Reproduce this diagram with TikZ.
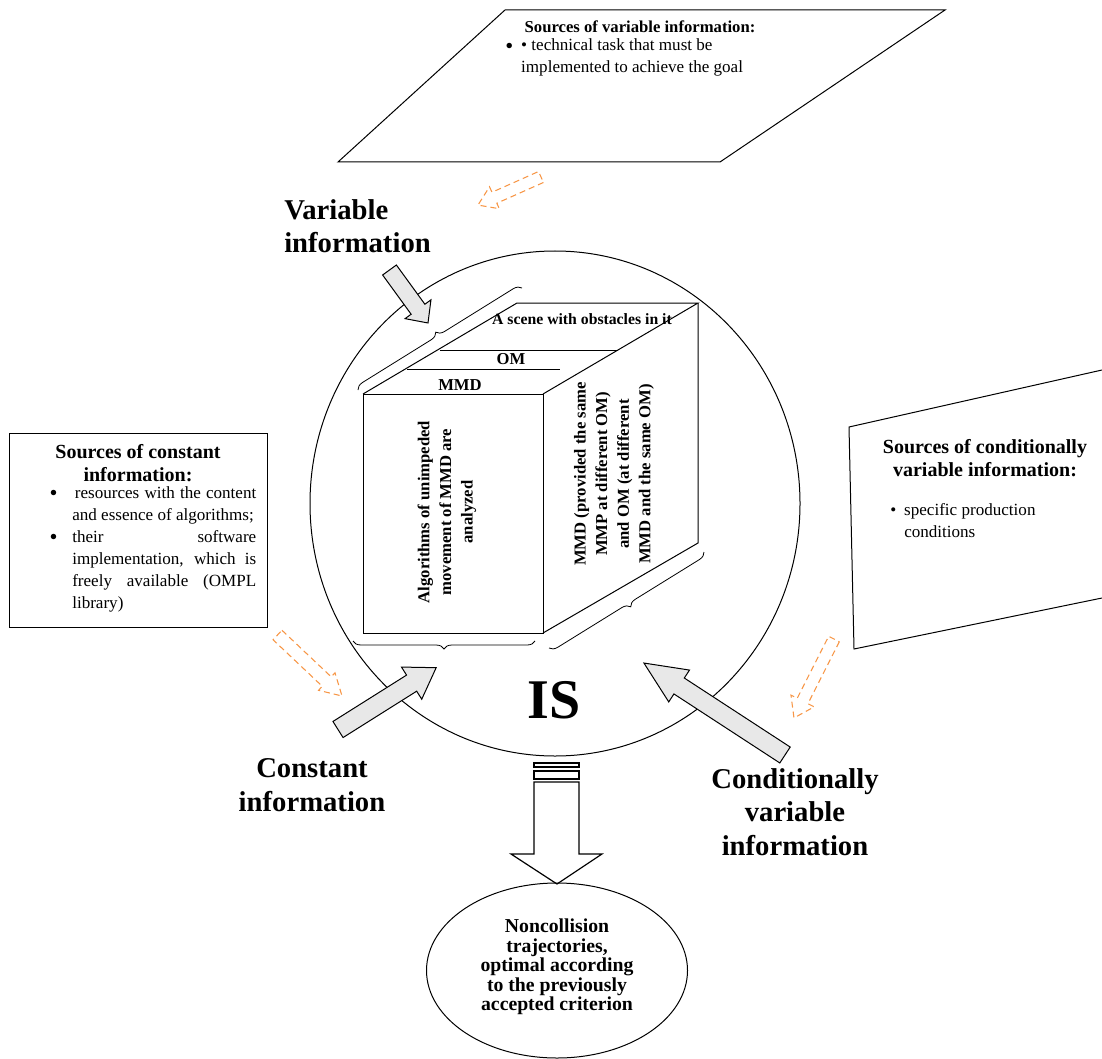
\documentclass[tikz,border=0pt]{standalone}
\usepackage{fontspec}
\setmainfont{Liberation Serif}
\usetikzlibrary{decorations.pathreplacing}

\definecolor{hintorange}{RGB}{247,150,70}
\newcommand{\bigbullet}{\raisebox{-2pt}{\fontsize{17}{16.5}\selectfont\textbullet}}

\tikzset{
  blockarrow/.style={draw=black, line width=0.75, fill=black!9, line join=miter},
  hintarrow/.style={draw=hintorange, line width=0.8, dash pattern=on 4.5pt off 3pt},
  cubebrace/.style={decorate, decoration={brace, amplitude=6pt}, line width=0.6},
  srctitle/.style={font=\fontsize{15}{17.5}\selectfont\bfseries, align=center},
  srcbody/.style={font=\fontsize{12.8}{16.5}\selectfont},
  bigword/.style={font=\fontsize{21.5}{25}\selectfont\bfseries},
  cubetext/.style={font=\fontsize{12.5}{16.2}\selectfont\bfseries, align=center},
}

\begin{document}
\begin{tikzpicture}[x=0.75pt,y=0.75pt,yscale=-1,xscale=1]
\useasboundingbox (0,0) rectangle (1102,1059);

%Shape: Parallelogram
\draw [line width=0.75]  (505,10) -- (945,10) -- (720,162) -- (338,162) -- cycle ;
% Text Node
\draw (640,27) node [font=\fontsize{12.5}{15}\selectfont\bfseries] (vartitle) {Sources of variable information:};
% Text Node
\draw (505,57) node [anchor=west, inner sep=0, srcbody] (varlist) {\begin{tabular}{@{}l@{\hspace{6pt}}l@{}}\bigbullet & • technical task that must be\\ & implemented to achieve the goal\end{tabular}};

%Shape: Rectangle
\draw [line width=0.75]  (9,433) -- (267,433) -- (267,627) -- (9,627) -- cycle ;
% Text Node
\draw (138,463) node [srctitle] (consttitle) {Sources of constant\\information:};
% Text Node
\draw (72,486) node [anchor=north west, inner sep=0, text width=138pt, align=justify, srcbody] (constlist) {\hyphenpenalty=10000\noindent\llap{\bigbullet\hspace{11pt}}\hspace{2pt}resources with the content\linebreak and essence of algorithms;\par
\noindent\llap{\bigbullet\hspace{11pt}}their software\linebreak implementation, which is\linebreak freely available (OMPL\linebreak library)};

%Shape: Polygon
\draw [line width=0.75]  (1102,370) -- (849,427) -- (854,649) -- (1102,598) ;
% Text Node
\draw (985,458) node [srctitle] (condtitle) {Sources of conditionally\\variable information:};
% Text Node
\draw (890,522) node [anchor=west, inner sep=0, srcbody] (condlist) {\begin{tabular}{@{}l@{\hspace{6pt}}l@{}}\textbullet & specific production\\ & conditions\end{tabular}};

%Shape: Ellipse
\draw [line width=0.75]  (555,503.5) ellipse (245 and 252.5) ;

%Shape: Cube
\draw [line width=0.75]  (363,394) -- (543,394) -- (543,633) -- (363,633) -- cycle ;
\draw [line width=0.75]  (363,394) -- (517,303) -- (698,303) -- (543,394) ;
\draw [line width=0.75]  (698,303) -- (698,543) -- (543,633) ;
%Straight Lines
\draw [line width=0.75]  (440,350) -- (618,350) ;
\draw [line width=0.75]  (407,369) -- (560,369) ;

% Text Node
\draw (582,319) node [font=\fontsize{11.8}{14}\selectfont\bfseries] (scene) {A scene with obstacles in it};
% Text Node
\draw (511,359) node [cubetext] (om) {OM};
% Text Node
\draw (460,385) node [cubetext] (mmd) {MMD};
% Text Node
\draw (447,512) node [cubetext, rotate=90] (algo) {Algorithms of unimpeded\\movement of MMD are\\analyzed};
% Text Node
\draw (614,474) node [cubetext, rotate=90] (mmdom) {MMD (provided the same\\MMP at different OM)\\and OM (at different\\MMD and the same OM)};

%Braces
\draw [cubebrace]  (358,390) -- (522,288) ;
\draw [cubebrace]  (535,641) -- (353,641) ;
\draw [cubebrace]  (704,552) -- (549,648) ;

%Hollow Arrows
\draw [hintarrow, shift={(541,177)}, rotate=156]  (0,-6) -- (51,-6) -- (51,-12) -- (69,0) -- (51,12) -- (51,6) -- (0,6) -- cycle ;
\draw [hintarrow, shift={(277.5,635)}, rotate=43.4]  (0,-6.5) -- (67.8,-6.5) -- (67.8,-12) -- (88.8,0) -- (67.8,12) -- (67.8,6.5) -- (0,6.5) -- cycle ;
\draw [hintarrow, shift={(834,639)}, rotate=116.9]  (0,-6) -- (69.5,-6) -- (69.5,-13) -- (88.5,0) -- (69.5,13) -- (69.5,6) -- (0,6) -- cycle ;

%Right Arrows
\draw [blockarrow, shift={(389.5,270)}, rotate=54]  (0,-8.5) -- (48.5,-8.5) -- (48.5,-16) -- (65.5,0) -- (48.5,16) -- (48.5,8.5) -- (0,8.5) -- cycle ;
\draw [blockarrow, shift={(338,729.5)}, rotate=-32.2]  (0,-9.5) -- (87,-9.5) -- (87,-19) -- (116,0) -- (87,19) -- (87,9.5) -- (0,9.5) -- cycle ;
\draw [blockarrow, shift={(785,755)}, rotate=213.1]  (0,-9.5) -- (126.4,-9.5) -- (126.4,-19) -- (168.4,0) -- (126.4,19) -- (126.4,9.5) -- (0,9.5) -- cycle ;

% Text Node
\draw (284,226) node [anchor=west, inner sep=0, bigword, align=left] (varinfo) {Variable\\information};
% Text Node
\draw (312,785) node [bigword, align=center] (constinfo) {Constant\\information};
% Text Node
\draw (795,812) node [bigword, align=center] (condinfo) {Conditionally\\variable\\information};
% Text Node
\draw (554,700) node [font=\fontsize{42}{48}\selectfont\bfseries] (is) {IS};

%Down Arrow
\draw [line width=0.9]  (534,763) -- (579,763) -- (579,767) -- (534,767) -- cycle ;
\draw [line width=0.9]  (534,771) -- (579,771) -- (579,779) -- (534,779) -- cycle ;
\draw [line width=0.9]  (534,782) -- (579,782) -- (579,854) -- (602,854) -- (557,884) -- (511,854) -- (534,854) -- cycle ;

%Shape: Ellipse
\draw [line width=0.75]  (557,970.5) ellipse (130.5 and 87.5) ;
% Text Node
\draw (557,967) node [font=\fontsize{14.8}{14.6}\selectfont\bfseries, align=center] (result) {Noncollision\\trajectories,\\optimal according\\to the previously\\accepted criterion};

\end{tikzpicture}
\end{document}
